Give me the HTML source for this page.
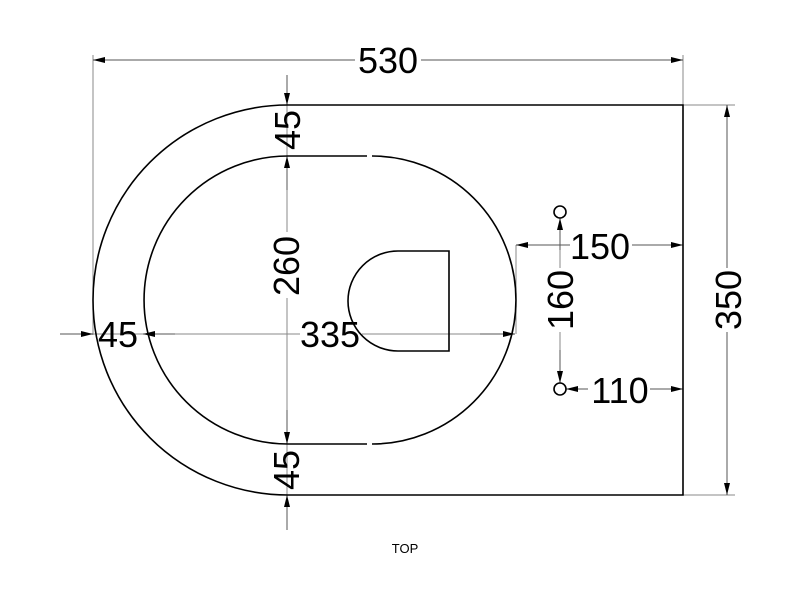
<!DOCTYPE html>
<html><head><meta charset="utf-8"><style>html,body{margin:0;padding:0;background:#fff}svg{display:block}</style></head>
<body>
<svg width="800" height="600" viewBox="0 0 800 600" xmlns="http://www.w3.org/2000/svg" font-family="Liberation Sans, sans-serif">
<defs>
<marker id="a" viewBox="0 0 12 6" refX="12" refY="3" markerWidth="12" markerHeight="6" markerUnits="userSpaceOnUse" orient="auto"><path d="M0,0 L12,3 L0,6 z" fill="#000"/></marker>
</defs>
<g stroke="#888" stroke-width="1" fill="none">
<line x1="93" y1="55" x2="93" y2="335"/>
<line x1="683" y1="55" x2="683" y2="105"/>
<line x1="683" y1="105" x2="735" y2="105"/>
<line x1="683" y1="495" x2="735" y2="495"/>
<line x1="287" y1="75" x2="287" y2="530"/>
<line x1="60" y1="334" x2="300" y2="334"/>
<line x1="362" y1="334" x2="515" y2="334"/>
<line x1="516" y1="245" x2="516" y2="334"/>
<line x1="560" y1="218" x2="560" y2="383"/>
</g>
<g stroke="#555" stroke-width="1" fill="none">
<line x1="390" y1="60" x2="93" y2="60" marker-end="url(#a)"/>
<line x1="390" y1="60" x2="683" y2="60" marker-end="url(#a)"/>
<line x1="727" y1="300" x2="727" y2="105" marker-end="url(#a)"/>
<line x1="727" y1="300" x2="727" y2="495" marker-end="url(#a)"/>
<line x1="287" y1="75" x2="287" y2="105" marker-end="url(#a)"/>
<line x1="287" y1="190" x2="287" y2="156" marker-end="url(#a)"/>
<line x1="287" y1="410" x2="287" y2="444" marker-end="url(#a)"/>
<line x1="287" y1="530" x2="287" y2="495" marker-end="url(#a)"/>
<line x1="60" y1="334" x2="93" y2="334" marker-end="url(#a)"/>
<line x1="175" y1="334" x2="143" y2="334" marker-end="url(#a)"/>
<line x1="480" y1="334" x2="515" y2="334" marker-end="url(#a)"/>
<line x1="600" y1="245" x2="516" y2="245" marker-end="url(#a)"/>
<line x1="600" y1="245" x2="683" y2="245" marker-end="url(#a)"/>
<line x1="560" y1="250" x2="560" y2="218" marker-end="url(#a)"/>
<line x1="560" y1="350" x2="560" y2="383" marker-end="url(#a)"/>
<line x1="600" y1="389" x2="566" y2="389" marker-end="url(#a)"/>
<line x1="640" y1="389" x2="683" y2="389" marker-end="url(#a)"/>
</g>
<g stroke="#000" stroke-width="1.6" fill="none">
<path d="M683,105 L683,495 L288,495 A195,195 0 0 1 288,105 Z"/>
<path d="M367,156 L288,156 A144,144 0 0 0 288,444 L367,444"/>
<path d="M372,156 A144,144 0 0 1 372,444"/>
<path d="M449,251 L449,351 L398,351 A50,50 0 0 1 398,251 Z"/>
<circle cx="560" cy="212" r="6"/>
<circle cx="560" cy="389" r="6"/>
</g>
<g font-size="36" fill="#000" text-anchor="middle">
<rect x="355" y="42" width="66" height="34" fill="#fff"/>
<text x="388" y="73">530</text>
<rect x="570" y="228" width="62" height="34" fill="#fff"/>
<text x="600" y="259">150</text>
<rect x="588" y="372" width="62" height="34" fill="#fff"/>
<text x="620" y="403">110</text>
<text x="118" y="347">45</text>
<text x="330" y="347">335</text>
<text transform="translate(300,130) rotate(-90)">45</text>
<rect x="270" y="232" width="34" height="66" fill="#fff"/>
<text transform="translate(299,266) rotate(-90)">260</text>
<text transform="translate(299,470) rotate(-90)">45</text>
<rect x="545" y="268" width="34" height="64" fill="#fff"/>
<text transform="translate(573,300) rotate(-90)">160</text>
<rect x="712" y="268" width="34" height="64" fill="#fff"/>
<text transform="translate(741,300) rotate(-90)">350</text>
</g>
<text x="405" y="553" font-size="13" text-anchor="middle" fill="#000">TOP</text>
</svg>
</body></html>
